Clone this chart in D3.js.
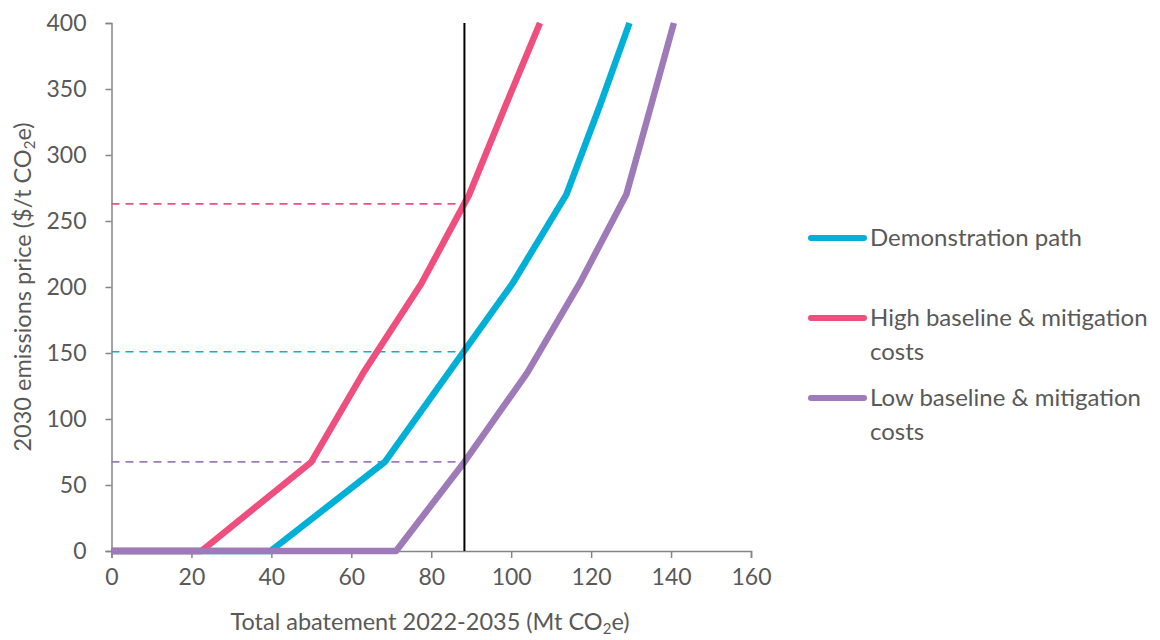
<!DOCTYPE html>
<html><head><meta charset="utf-8">
<script src="https://cdn.jsdelivr.net/npm/d3@7"></script>
<style>body{margin:0;background:#fff;} text{font-family:Lato,"Open Sans",sans-serif;}</style>
</head><body><svg id="c" width="1160" height="640"></svg>
<script>
const xTicks=[0,20,40,60,80,100,120,140,160];
const yTicks=[0,50,100,150,200,250,300,350,400];
const seriesNames=["Demonstration path","High baseline & mitigation costs","Low baseline & mitigation costs"];
const seriesColors=["#00B0D6","#EF4F7F","#9E7BB8"];
const demoX=[0,39.8,68.4,100.3,113.8,122.2,129.6];
const demoY=[0,0,67.5,202.5,270,337.5,400];
const highX=[0,22.5,50,63,77.5,89.5,98.6,107.2];
const highY=[0,0,67.5,135,202.5,270,337.5,400];
const lowX=[0,71.2,88.3,104,117.1,128.8,135,140.7];
const lowY=[0,0,67.5,135,202.5,270,337.5,400];
const refX=88.3;
const refY=[151,263,67.5]; // demo, high, low

const svg=d3.select("#c");
const x=d3.scaleLinear().domain([0,160]).range([111.5,751]);
const y=d3.scaleLinear().domain([0,400]).range([551,23]);
const grey="#858585", txt="#595959";

// axes
const gx=svg.append("g").attr("transform","translate(0,551)").call(d3.axisBottom(x).tickValues(xTicks).tickSize(7).tickPadding(11));
const gy=svg.append("g").attr("transform","translate(111.5,0)").call(d3.axisLeft(y).tickValues(yTicks).tickSize(6).tickPadding(19));
[gx,gy].forEach(g=>{g.selectAll("path,line").attr("stroke",grey).attr("stroke-width",1.5);
 g.selectAll("text").attr("fill",txt).style("font-size","23px").style("font-family","Lato");});

// dashed reference lines
refY.forEach((v,i)=>svg.append("line").attr("x1",x(0)).attr("x2",x(refX)).attr("y1",y(v)).attr("y2",y(v))
 .attr("stroke",seriesColors[i]).attr("stroke-width",1.6).attr("stroke-dasharray","8,6"));

const line=d3.line().x(d=>x(d[0])).y(d=>y(d[1]));
const data=[d3.zip(demoX,demoY),d3.zip(highX,highY),d3.zip(lowX,lowY)];
[0,1,2].forEach(i=>svg.append("path").datum(data[i]).attr("d",line).attr("fill","none")
 .attr("stroke",seriesColors[i]).attr("stroke-width",6.5).attr("stroke-linejoin","round"));

// vertical reference
svg.append("line").attr("x1",x(refX)).attr("x2",x(refX)).attr("y1",y(0)).attr("y2",y(400)).attr("stroke","#000").attr("stroke-width",2);

// axis titles
const xt=svg.append("text").attr("x",430).attr("y",630).attr("text-anchor","middle").attr("fill",txt).style("font-size","23.5px");
xt.append("tspan").text("Total abatement 2022-2035 (Mt CO");
xt.append("tspan").text("2").style("font-size","15px").attr("dy",4);
xt.append("tspan").text("e)").attr("dy",-4);
const yt=svg.append("text").attr("transform","translate(31,287) rotate(-90)").attr("text-anchor","middle").attr("fill",txt).style("font-size","23.5px");
yt.append("tspan").text("2030 emissions price ($/t CO");
yt.append("tspan").text("2").style("font-size","15px").attr("dy",4);
yt.append("tspan").text("e)").attr("dy",-4);

// legend
const leg=[{i:0,y:238,lines:["Demonstration path"]},{i:1,y:318,lines:["High baseline & mitigation","costs"]},{i:2,y:398,lines:["Low baseline & mitigation","costs"]}];
leg.forEach(l=>{
 svg.append("line").attr("x1",811).attr("x2",864).attr("y1",l.y).attr("y2",l.y).attr("stroke",seriesColors[l.i]).attr("stroke-width",6).attr("stroke-linecap","round");
 l.lines.forEach((t,k)=>svg.append("text").attr("x",870).attr("y",l.y+8+k*34).attr("fill",txt).style("font-size","24px").text(t));
});
</script></body></html>
